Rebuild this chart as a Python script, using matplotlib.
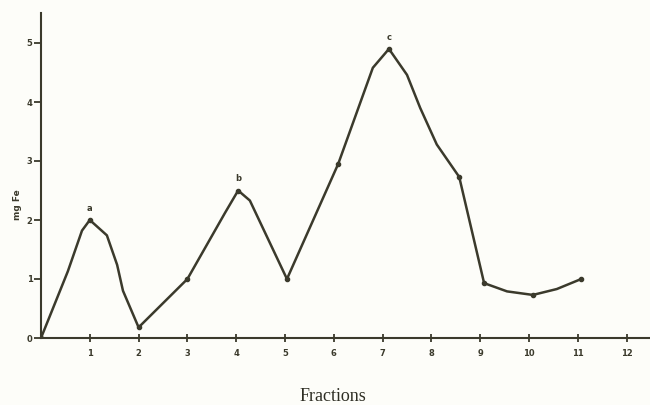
import numpy as np
import matplotlib.pyplot as plt

# measured fractions (dots on the curve)
frac = [0, 1, 2, 3, 4.04, 5.04, 6.09, 7.13, 8.57, 9.08, 10.08, 11.07]
fe = [0, 2.0, 0.18, 1.0, 2.5, 1.0, 2.95, 4.9, 2.73, 0.93, 0.73, 1.0]

# hand drawn curve
curve_x = [0, 0.55, 0.84, 1, 1.35, 1.56, 1.68, 2, 3, 3.77, 4.04, 4.28, 5.04,
           6.09, 6.8, 7.13, 7.5, 7.77, 8.11, 8.57, 9.08, 9.55, 10.08, 10.57, 11.07]
curve_y = [0, 1.13, 1.82, 2.0, 1.74, 1.24, 0.8, 0.18, 1.0, 2.12, 2.5, 2.33, 1.0,
           2.95, 4.58, 4.9, 4.46, 3.9, 3.28, 2.73, 0.93, 0.79, 0.73, 0.83, 1.0]

peaks = ["a", "b", "c"]
peak_x = [1, 4.04, 7.13]
peak_y = [2.0, 2.5, 4.9]

ink = "#3b3a2c"
bg = "#fdfdf9"

fig = plt.figure(figsize=(6.5, 4.05), dpi=100, facecolor=bg)
ax = fig.add_axes([41/650, 67/405, 609/650, 325/405], facecolor=bg)

ax.plot(curve_x, curve_y, color=ink, lw=1.8, solid_joinstyle="round")
ax.plot(frac, fe, "o", color=ink, ms=3)

for lab, px, py in zip(peaks, peak_x, peak_y):
    ax.text(px, py + 0.12, lab, ha="center", va="bottom", fontsize=6,
            fontweight="bold", color=ink)

ax.set_xlim(0, 609/48.8)
ax.set_ylim(0, 325/59)

ax.spines["top"].set_visible(False)
ax.spines["right"].set_visible(False)
for s in ["left", "bottom"]:
    ax.spines[s].set_color(ink)
    ax.spines[s].set_linewidth(1.5)

ax.set_xticks(range(1, 13))
ax.set_yticks(range(0, 6))
ax.tick_params(axis="x", direction="inout", length=6, width=1.3, colors=ink,
               labelsize=6, pad=5)
ax.tick_params(axis="y", direction="out", length=5, width=1.3, colors=ink,
               labelsize=6, pad=1)
for t in ax.get_xticklabels() + ax.get_yticklabels():
    t.set_fontweight("bold")

ax.set_xlabel("Fractions", family="Liberation Serif", fontsize=13,
              color="#2e2e24")
ax.xaxis.set_label_coords(292/609, -50/325)
ax.set_ylabel("mg Fe", fontsize=6.5, fontweight="bold", color=ink)
ax.yaxis.set_label_coords(-19/609, 133/325)

fig.savefig("out.png", dpi=100, facecolor=bg)
